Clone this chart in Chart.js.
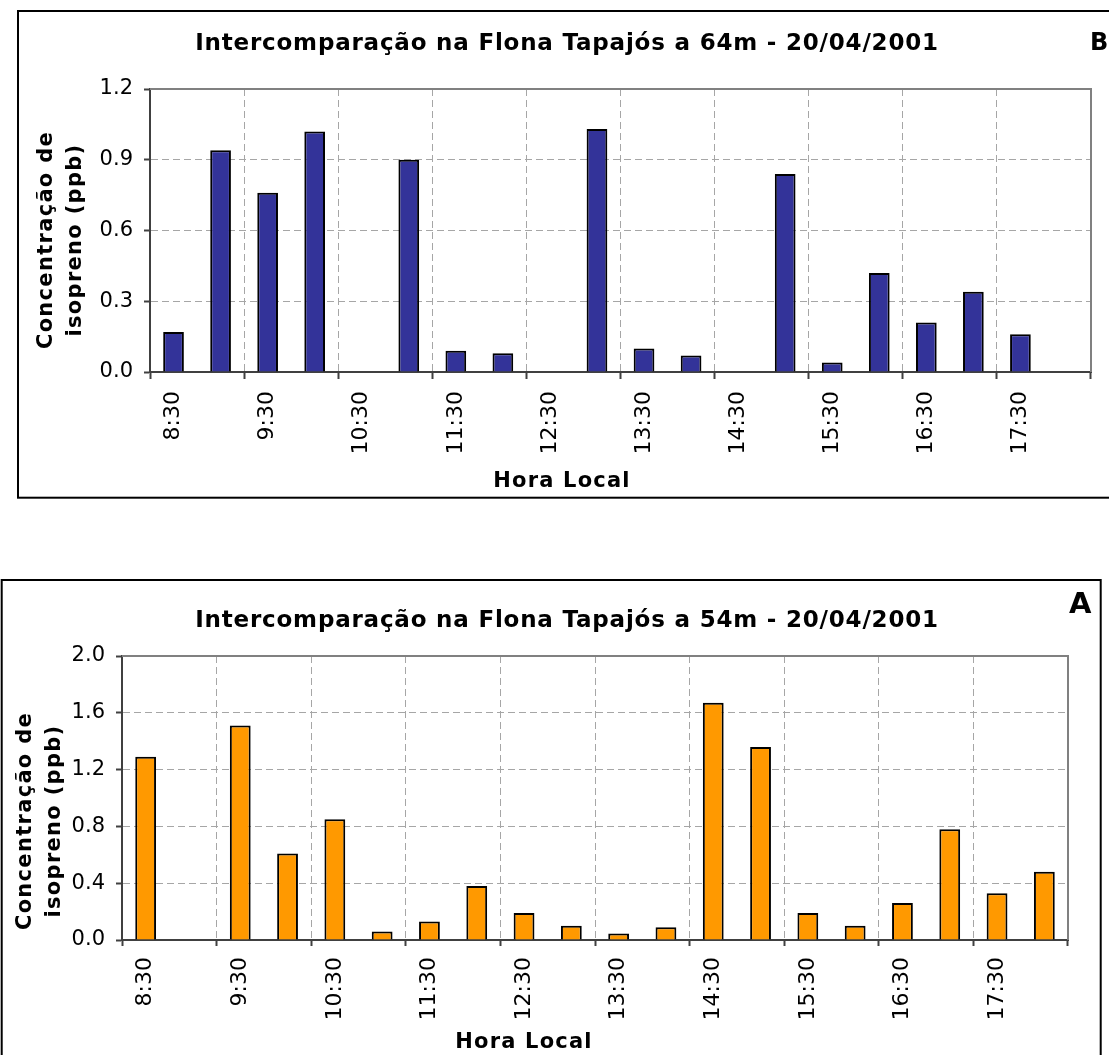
<!DOCTYPE html>
<html><head><meta charset="utf-8">
<script src="https://cdn.jsdelivr.net/npm/chart.js@4.4.1/dist/chart.umd.min.js"></script>
<style>
html,body{margin:0;padding:0;background:#fff;overflow:hidden;width:1109px;height:1055px}
.wrap{position:absolute;left:0;width:1109px}
#w1{top:0;height:520px}
#w2{top:560px;height:495px}
canvas{display:block}
</style></head><body>
<div class="wrap" id="w1"><canvas id="c1" width="1109" height="520"></canvas></div>
<div class="wrap" id="w2"><canvas id="c2" width="1109" height="495"></canvas></div>
<script>
// Categories: local time, every 30 minutes (labels shown every hour)
const times = ["8:30","9:00","9:30","10:00","10:30","11:00","11:30","12:00","12:30","13:00",
               "13:30","14:00","14:30","15:00","15:30","16:00","16:30","17:00","17:30","18:00"];
// B: 64 m
const isopreno64m = [0.17, 0.94, 0.76, 1.02, null, 0.90, 0.09, 0.08, null, 1.03,
                     0.10, 0.07, null, 0.84, 0.04, 0.42, 0.21, 0.34, 0.16, null];
// A: 54 m
const isopreno54m = [1.29, null, 1.51, 0.61, 0.85, 0.06, 0.13, 0.38, 0.19, 0.10,
                     0.045, 0.09, 1.67, 1.36, 0.19, 0.10, 0.26, 0.78, 0.33, 0.48];
const yAxisB = {min: 0, max: 1.2, step: 0.3};
const yAxisA = {min: 0, max: 2.0, step: 0.4};
const titleB = "Intercomparação na Flona Tapajós a 64m - 20/04/2001";
const titleA = "Intercomparação na Flona Tapajós a 54m - 20/04/2001";
const yTitleLines = ["Concentração de", "isopreno (ppb)"];
const xTitle = "Hora Local";

Chart.defaults.font.family = '"DejaVu Sans", Verdana, sans-serif';
Chart.defaults.color = '#000';

const FONT = '"DejaVu Sans", Verdana, sans-serif';
const deco = {
  id: 'deco',
  beforeDatasetsDraw(chart) {
    const {ctx, chartArea: a} = chart;
    ctx.save();
    ctx.strokeStyle = '#808080'; ctx.lineWidth = 2;
    ctx.beginPath();
    ctx.moveTo(a.left, a.top); ctx.lineTo(a.right, a.top); ctx.lineTo(a.right, a.bottom);
    ctx.stroke();
    ctx.restore();
  },
  afterDraw(chart, args, o) {
    const ctx = chart.ctx;
    ctx.save();
    ctx.strokeStyle = '#000'; ctx.lineWidth = 2;
    ctx.strokeRect(o.frame[0], o.frame[1], o.frame[2], o.frame[3]);
    ctx.fillStyle = '#000';
    ctx.textBaseline = 'alphabetic';
    // main title
    ctx.font = `bold ${o.title.size}px ${FONT}`;
    ctx.letterSpacing = o.title.spacing + 'px';
    ctx.textAlign = 'center';
    ctx.fillText(o.title.text, o.title.x, o.title.y);
    // panel letter
    ctx.font = `bold ${o.letter.size}px ${FONT}`;
    ctx.letterSpacing = '0px';
    ctx.textAlign = 'left';
    ctx.fillText(o.letter.text, o.letter.x, o.letter.y);
    // x title
    ctx.font = `bold ${o.xt.size}px ${FONT}`;
    ctx.letterSpacing = o.xt.spacing + 'px';
    ctx.textAlign = 'center';
    ctx.fillText(o.xt.text, o.xt.x, o.xt.y);
    // y title (rotated, two lines)
    ctx.font = `bold ${o.yt.size}px ${FONT}`;
    ctx.letterSpacing = o.yt.spacing + 'px';
    ctx.textAlign = 'center';
    ctx.textBaseline = 'middle';
    o.yt.lines.forEach((line, i) => {
      ctx.save();
      ctx.translate(o.yt.xs[i], o.yt.y);
      ctx.rotate(-Math.PI / 2);
      ctx.fillText(line, 0, 0);
      ctx.restore();
    });
    ctx.restore();
  }
};

function makeChart(id, data, color, yAx, geom, decoOpts) {
  const even = c => c.type === 'tick' && c.index % 2 === 0;
  return new Chart(document.getElementById(id), {
    type: 'bar',
    data: {
      labels: times,
      datasets: [{
        data: data,
        backgroundColor: color,
        borderColor: '#000',
        borderWidth: 2,
        barPercentage: 0.44,
        categoryPercentage: 1.0
      }]
    },
    options: {
      responsive: false,
      animation: false,
      devicePixelRatio: 1,
      layout: {padding: {top: geom.top, right: geom.right, left: 0, bottom: 0}},
      plugins: {legend: {display: false}, tooltip: {enabled: false}, title: {display: false}, deco: decoOpts},
      scales: {
        x: {
          type: 'category',
          offset: true,
          grid: {
            offset: true,
            color: c => even(c) ? '#a6a6a6' : 'transparent',
            lineWidth: 1,
            tickLength: geom.xTick,
            tickWidth: 2,
            tickColor: c => (c.type !== 'tick' || c.index % 2 === 0) ? '#404040' : 'transparent'
          },
          border: {display: true, color: '#404040', width: 2, dash: [7, 4]},
          ticks: {
            autoSkip: false, maxRotation: 90, minRotation: 90, padding: geom.xPad,
            color: '#000', font: {size: 22},
            callback: function (v, i) { return i % 2 === 0 ? this.getLabelForValue(v) : ''; }
          },
          afterFit: s => { s.height = geom.xHeight; }
        },
        y: {
          min: yAx.min, max: yAx.max,
          ticks: {stepSize: yAx.step, padding: 11, color: '#000', font: {size: 21},
                  callback: v => Number(v).toFixed(1)},
          grid: {color: '#a6a6a6', lineWidth: 1, tickLength: 6, tickWidth: 2, tickColor: '#404040'},
          border: {display: true, color: '#404040', width: 2, dash: [7, 4]},
          afterFit: s => { s.width = geom.left; }
        }
      }
    },
    plugins: [deco]
  });
}

makeChart('c1', isopreno64m, '#333399', yAxisB,
  {top: 89, right: 18, left: 150, xHeight: 148, xTick: 7, xPad: 12},
  {
    frame: [18, 11, 1200, 486.7],
    title: {text: titleB, x: 567, y: 50, size: 23, spacing: 0.8},
    letter: {text: 'B', x: 1090, y: 50, size: 24},
    xt: {text: xTitle, x: 562, y: 487, size: 21, spacing: 1.2},
    yt: {lines: yTitleLines, xs: [47, 76], y: 240, size: 21, spacing: 1.3}
  });

makeChart('c2', isopreno54m, '#FF9900', yAxisA,
  {top: 96, right: 41, left: 122, xHeight: 115, xTick: 6, xPad: 11},
  {
    frame: [1.7, 20, 1099, 600],
    title: {text: titleA, x: 567, y: 67, size: 23, spacing: 0.8},
    letter: {text: 'A', x: 1069, y: 53, size: 29},
    xt: {text: xTitle, x: 524, y: 488, size: 21, spacing: 1.2},
    yt: {lines: yTitleLines, xs: [26, 54.5], y: 261, size: 21, spacing: 1.3}
  });
</script>
</body></html>
